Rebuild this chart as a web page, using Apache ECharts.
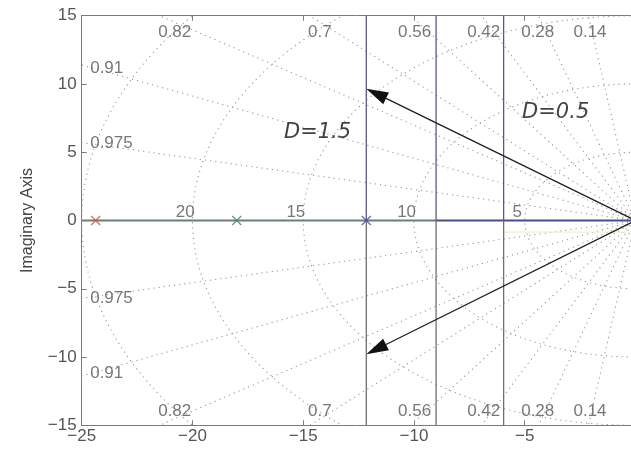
<!DOCTYPE html>
<html><head><meta charset="utf-8">
<script src="https://cdn.jsdelivr.net/npm/echarts@6/dist/echarts.min.js"></script>
<style>html,body{margin:0;padding:0;background:#fff}#c{width:631px;height:452px}</style>
</head><body><div id="c"></div>
<script>
// ---- data ----
const xRange = [-25, 0];
const yRange = [-15, 15];
const zetaValues = [0.14, 0.28, 0.42, 0.56, 0.7, 0.82, 0.91, 0.975];
const wnValues = [5, 10, 15, 20, 25];
const wnLabels = ['5', '10', '15', '20'];
const topZetaLabels = ['0.82', '0.7', '0.56', '0.42', '0.28', '0.14'];
const sideZetaLabels = ['0.91', '0.975'];
const poleX = [-24.37, -18, -12.15];
const dLineX = [-12.15, -9, -5.95];
const arrowTips = [[-12.15, 9.65], [-12.15, -9.8]];
const annotationTexts = ['D=1.5', 'D=0.5'];

// ---- annotation placement (layout, not data) ----
const topZetaLabelX = [-20.8, -14.25, -9.97, -6.85, -4.41, -2.05];
const topZetaLabelY = 13.8, bottomZetaLabelY = -14.0;
const sideZetaLabelX = -24.64;
const sideZetaLabelY = [11.18, 5.69];
const annotationPos = [[-14.35, 6.42], [-3.6, 7.88]];
const poleColors = ['#d05050', '#3f8a6e', '#4a4aa0'];

const FONT = '"Liberation Sans", Arial, sans-serif';
const gridDot = { color: '#9a9a9a', width: 1.1, type: [1.2, 4] };
const series = [];
const R = 60;
zetaValues.forEach(z => {
  const s = Math.sqrt(1 - z * z);
  series.push({ type: 'line', silent: true, symbol: 'none', animation: false, z: 1,
    lineStyle: gridDot,
    data: [[-z * R, s * R], [0, 0], [-z * R, -s * R]] });
});
wnValues.forEach(w => {
  const pts = [];
  for (let a = 90; a <= 270; a += 1.5) {
    const t = a * Math.PI / 180;
    pts.push([w * Math.cos(t), w * Math.sin(t)]);
  }
  series.push({ type: 'line', silent: true, symbol: 'none', animation: false, z: 1,
    lineStyle: gridDot, data: pts });
});
// real-axis locus
series.push({ type: 'line', symbol: 'none', animation: false, z: 3,
  lineStyle: { color: '#6f7d76', width: 2 }, data: [[xRange[0], 0], [dLineX[1], 0]] });
series.push({ type: 'line', symbol: 'none', animation: false, z: 3,
  lineStyle: { color: '#4a4a92', width: 2 }, data: [[dLineX[1], 0], [xRange[1], 0]] });
series.push({ type: 'line', symbol: 'none', animation: false, z: 2,
  lineStyle: { color: '#f0f0b8', width: 1 }, data: [[dLineX[2], -0.85], [xRange[1], -0.85]] });
// vertical branches
dLineX.forEach(x => {
  series.push({ type: 'line', symbol: 'none', animation: false, z: 3,
    lineStyle: { color: '#575790', width: 1.3 }, data: [[x, 0], [x, yRange[1]]] });
  series.push({ type: 'line', symbol: 'none', animation: false, z: 3,
    lineStyle: { color: '#6a7272', width: 1.3 }, data: [[x, yRange[0]], [x, 0]] });
});
// arrows from the origin to the tips
series.push({ type: 'custom', animation: false, silent: true, z: 5,
  clip: false,
  data: arrowTips,
  renderItem: function (params, api) {
    const tip = api.coord([api.value(0), api.value(1)]);
    const base = api.coord([0, 0]);
    const dx = tip[0] - base[0], dy = tip[1] - base[1];
    const len = Math.sqrt(dx * dx + dy * dy);
    const ux = dx / len, uy = dy / len, nx = -uy, ny = ux;
    const L = 22, W = 13;
    const bx = tip[0] - ux * L, by = tip[1] - uy * L;
    return { type: 'group', children: [
      { type: 'line', shape: { x1: base[0], y1: base[1], x2: bx, y2: by },
        style: { stroke: '#1e1e1e', lineWidth: 1.3 } },
      { type: 'polygon', shape: { points: [tip, [bx + nx * W / 2, by + ny * W / 2], [bx - nx * W / 2, by - ny * W / 2]] },
        style: { fill: '#111' } }
    ] };
  } });
// poles
const xPath = 'path://M0,1 L1,0 L5,4 L9,0 L10,1 L6,5 L10,9 L9,10 L5,6 L1,10 L0,9 L4,5 Z';
poleX.forEach((x, i) => {
  series.push({ type: 'scatter', animation: false, z: 6, symbol: xPath, symbolSize: 10,
    itemStyle: { color: poleColors[i] }, data: [[x, 0]] });
});
// grid labels
const labelStyle = { show: true, color: '#555', fontSize: 17, fontFamily: FONT, position: 'inside' };
function textSeries(points, label) {
  return { type: 'scatter', animation: false, silent: true, z: 7, symbolSize: 1,
    itemStyle: { color: 'rgba(0,0,0,0)' },
    label: Object.assign({}, labelStyle, label),
    data: points };
}
series.push(textSeries(topZetaLabels.map((t, i) => ({ value: [topZetaLabelX[i], topZetaLabelY], name: t })),
  { formatter: p => p.name }));
series.push(textSeries(topZetaLabels.map((t, i) => ({ value: [topZetaLabelX[i], bottomZetaLabelY], name: t })),
  { formatter: p => p.name }));
series.push(textSeries(sideZetaLabels.map((t, i) => ({ value: [sideZetaLabelX, sideZetaLabelY[i]], name: t }))
  .concat(sideZetaLabels.map((t, i) => ({ value: [sideZetaLabelX, -sideZetaLabelY[i]], name: t }))),
  { formatter: p => p.name, position: 'right', distance: 0 }));
series.push(textSeries(wnLabels.map(t => ({ value: [-Number(t) - 0.33, 0.62], name: t })),
  { formatter: p => p.name }));
series.push(textSeries(annotationTexts.map((t, i) => ({ value: annotationPos[i], name: t })),
  { formatter: p => p.name, color: '#111', fontSize: 21, fontStyle: 'italic', fontFamily: '"DejaVu Sans", sans-serif' }));

const fmt = v => v < 0 ? '\u2212' + (-v) : String(v);
const axisCommon = {
  axisLine: { show: true, onZero: false, lineStyle: { color: '#7a7a7a', width: 1 } },
  axisTick: { show: true, inside: true, length: 5, lineStyle: { color: '#7a7a7a' } },
  splitLine: { show: false }
};
const option = {
  backgroundColor: '#fff',
  animation: false,
  grid: { left: 81.7, top: 15.7, width: 553.7, height: 409.6, containLabel: false, outerBoundsMode: 'none' },
  xAxis: [
    Object.assign({ type: 'value', min: xRange[0], max: xRange[1], interval: 5, position: 'bottom',
      axisLabel: { color: '#555', fontSize: 17, fontFamily: FONT, margin: 3, formatter: fmt, showMaxLabel: false } }, axisCommon),
    Object.assign({ type: 'value', min: xRange[0], max: xRange[1], interval: 5, position: 'top',
      axisLabel: { show: false } }, axisCommon)
  ],
  yAxis: [
    Object.assign({ type: 'value', min: yRange[0], max: yRange[1], interval: 5, position: 'left',
      name: 'Imaginary Axis', nameLocation: 'middle', nameGap: 46,
      nameTextStyle: { color: '#444', fontSize: 16, fontFamily: FONT },
      axisLabel: { color: '#555', fontSize: 17, fontFamily: FONT, margin: 5, formatter: fmt } }, axisCommon)
  ],
  series: series
};
const chart = echarts.init(document.getElementById('c'), null, { renderer: 'canvas' });
chart.setOption(option);
</script></body></html>
